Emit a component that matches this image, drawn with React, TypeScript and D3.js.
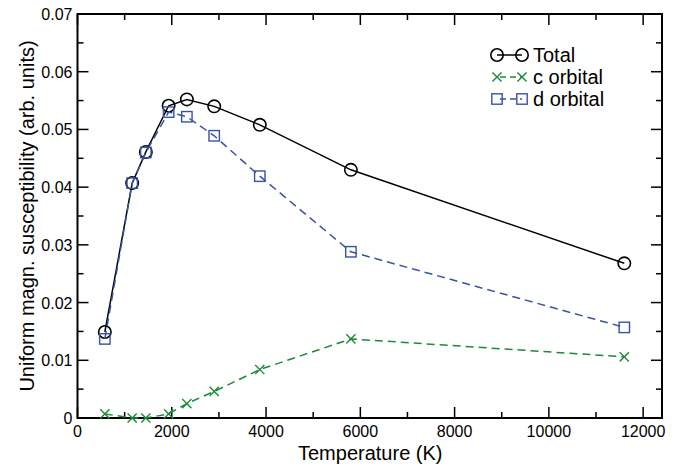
import { useEffect, useRef } from 'react';
import * as d3 from 'd3';

const temperature = [580, 1160, 1450, 1933, 2320, 2900, 3867, 5800, 11600];
const totalChi = [0.0149, 0.0407, 0.0461, 0.0541, 0.0552, 0.054, 0.0508, 0.043, 0.0268];
const cOrbital = [0.0007, 0.0, 0.0, 0.0007, 0.0025, 0.0046, 0.0084, 0.0137, 0.0106];
const dOrbital = [0.0137, 0.0407, 0.046, 0.053, 0.0522, 0.0489, 0.0419, 0.0288, 0.0157];
const xTicks = [0, 2000, 4000, 6000, 8000, 10000, 12000];
const yTicks = [0, 0.01, 0.02, 0.03, 0.04, 0.05, 0.06, 0.07];

const width = 689;
const height = 470;
const [mt, mr, mb, ml] = [14, 27, 52, 77.5];
const font = '"Liberation Sans", Arial, Helvetica, sans-serif';

const BLUE = '#3953a4';
const GREEN = '#1b8a3b';

export default function App() {
    const ref = useRef(null);

    useEffect(() => {
        const svg = d3.select(ref.current);
        svg.selectAll('*').remove();

        const x = d3.scaleLinear().domain([0, 12400]).range([ml, width - mr]);
        const y = d3.scaleLinear().domain([0, 0.07]).range([height - mb, mt]);
        const [x0, x1] = x.range();
        const [y0, y1] = y.range();

        const g = svg.append('g');

        // ticks (inward, on all four sides)
        const xMinor = d3.range(1000, 12400, 2000);
        const yMinor = d3.range(0.005, 0.07, 0.01);
        const tickLines = g.append('g').attr('stroke', '#000').attr('stroke-width', 1.5);
        xTicks.forEach((t) => {
            tickLines.append('line').attr('x1', x(t)).attr('x2', x(t)).attr('y1', y0).attr('y2', y0 - 11);
            tickLines.append('line').attr('x1', x(t)).attr('x2', x(t)).attr('y1', y1).attr('y2', y1 + 11);
        });
        xMinor.forEach((t) => {
            tickLines.append('line').attr('x1', x(t)).attr('x2', x(t)).attr('y1', y0).attr('y2', y0 - 6);
            tickLines.append('line').attr('x1', x(t)).attr('x2', x(t)).attr('y1', y1).attr('y2', y1 + 6);
        });
        yTicks.forEach((t) => {
            tickLines.append('line').attr('x1', x0).attr('x2', x0 + 11).attr('y1', y(t)).attr('y2', y(t));
            tickLines.append('line').attr('x1', x1).attr('x2', x1 - 11).attr('y1', y(t)).attr('y2', y(t));
        });
        yMinor.forEach((t) => {
            tickLines.append('line').attr('x1', x0).attr('x2', x0 + 6).attr('y1', y(t)).attr('y2', y(t));
            tickLines.append('line').attr('x1', x1).attr('x2', x1 - 6).attr('y1', y(t)).attr('y2', y(t));
        });

        // frame
        g.append('rect')
            .attr('x', x0)
            .attr('y', y1)
            .attr('width', x1 - x0)
            .attr('height', y0 - y1)
            .attr('fill', 'none')
            .attr('stroke', '#000')
            .attr('stroke-width', 2);

        // tick labels
        g.append('g')
            .selectAll('text')
            .data(xTicks)
            .join('text')
            .attr('x', (d) => x(d))
            .attr('y', y0 + 19)
            .attr('text-anchor', 'middle')
            .attr('font-family', font)
            .attr('font-size', 16)
            .text((d) => d);
        g.append('g')
            .selectAll('text')
            .data(yTicks)
            .join('text')
            .attr('x', x0 - 5)
            .attr('y', (d) => y(d) + 6)
            .attr('text-anchor', 'end')
            .attr('font-family', font)
            .attr('font-size', 16)
            .text((d) => (d === 0 ? '0' : d3.format('.2f')(d)));

        // axis titles
        g.append('text')
            .attr('x', (x0 + x1) / 2 + 0.5)
            .attr('y', 460)
            .attr('text-anchor', 'middle')
            .attr('font-family', font)
            .attr('font-size', 20)
            .text('Temperature (K)');
        g.append('text')
            .attr('transform', `translate(34, ${(y0 + y1) / 2}) rotate(-90)`)
            .attr('text-anchor', 'middle')
            .attr('font-family', font)
            .attr('font-size', 20)
            .text('Uniform magn. susceptibility (arb. units)');

        const line = d3
            .line()
            .x((d) => x(d[0]))
            .y((d) => y(d[1]));

        const drawMarker = (sel, kind, color, cx, cy) => {
            if (kind === 'circle') {
                sel.append('circle').attr('cx', cx).attr('cy', cy).attr('r', 6.2)
                    .attr('fill', 'none').attr('stroke', color).attr('stroke-width', 1.6);
            } else if (kind === 'square') {
                sel.append('rect').attr('x', cx - 5.2).attr('y', cy - 5.2).attr('width', 10.4).attr('height', 10.4)
                    .attr('fill', 'none').attr('stroke', color).attr('stroke-width', 1.4);
            } else {
                const s = 4.6;
                sel.append('path')
                    .attr('d', `M${cx - s},${cy - s}L${cx + s},${cy + s}M${cx - s},${cy + s}L${cx + s},${cy - s}`)
                    .attr('stroke', color).attr('stroke-width', 1.4).attr('fill', 'none');
            }
        };

        const series = [
            { name: 'Total', values: totalChi, color: '#000', dash: null, marker: 'circle' },
            { name: 'c orbital', values: cOrbital, color: GREEN, dash: '8,5', marker: 'x' },
            { name: 'd orbital', values: dOrbital, color: BLUE, dash: '8,5', marker: 'square' }
        ];

        series.forEach((s) => {
            const pts = temperature.map((t, i) => [t, s.values[i]]);
            const sg = g.append('g');
            sg.append('path')
                .attr('d', line(pts))
                .attr('fill', 'none')
                .attr('stroke', s.color)
                .attr('stroke-width', 1.5)
                .attr('stroke-dasharray', s.dash);
            pts.forEach((p) => drawMarker(sg, s.marker, s.color, x(p[0]), y(p[1])));
        });

        // legend
        const lg = g.append('g');
        series.forEach((s, i) => {
            const ly = 55 + i * 22;
            lg.append('line')
                .attr('x1', 497).attr('x2', 522).attr('y1', ly).attr('y2', ly)
                .attr('stroke', s.color).attr('stroke-width', 1.5)
                .attr('stroke-dasharray', s.dash ? '6,4' : null)
                .attr('stroke-dashoffset', s.dash ? -3 : null);
            drawMarker(lg, s.marker, s.color, 497, ly);
            drawMarker(lg, s.marker, s.color, 522, ly);
            lg.append('text')
                .attr('x', 533)
                .attr('y', ly + 7)
                .attr('font-family', font)
                .attr('font-size', 20)
                .text(s.name);
        });
    }, []);

    return (
        <svg
            ref={ref}
            width={width}
            height={height}
            style={{ position: 'absolute', left: 0, top: 0, background: '#fff' }}
        />
    );
}
